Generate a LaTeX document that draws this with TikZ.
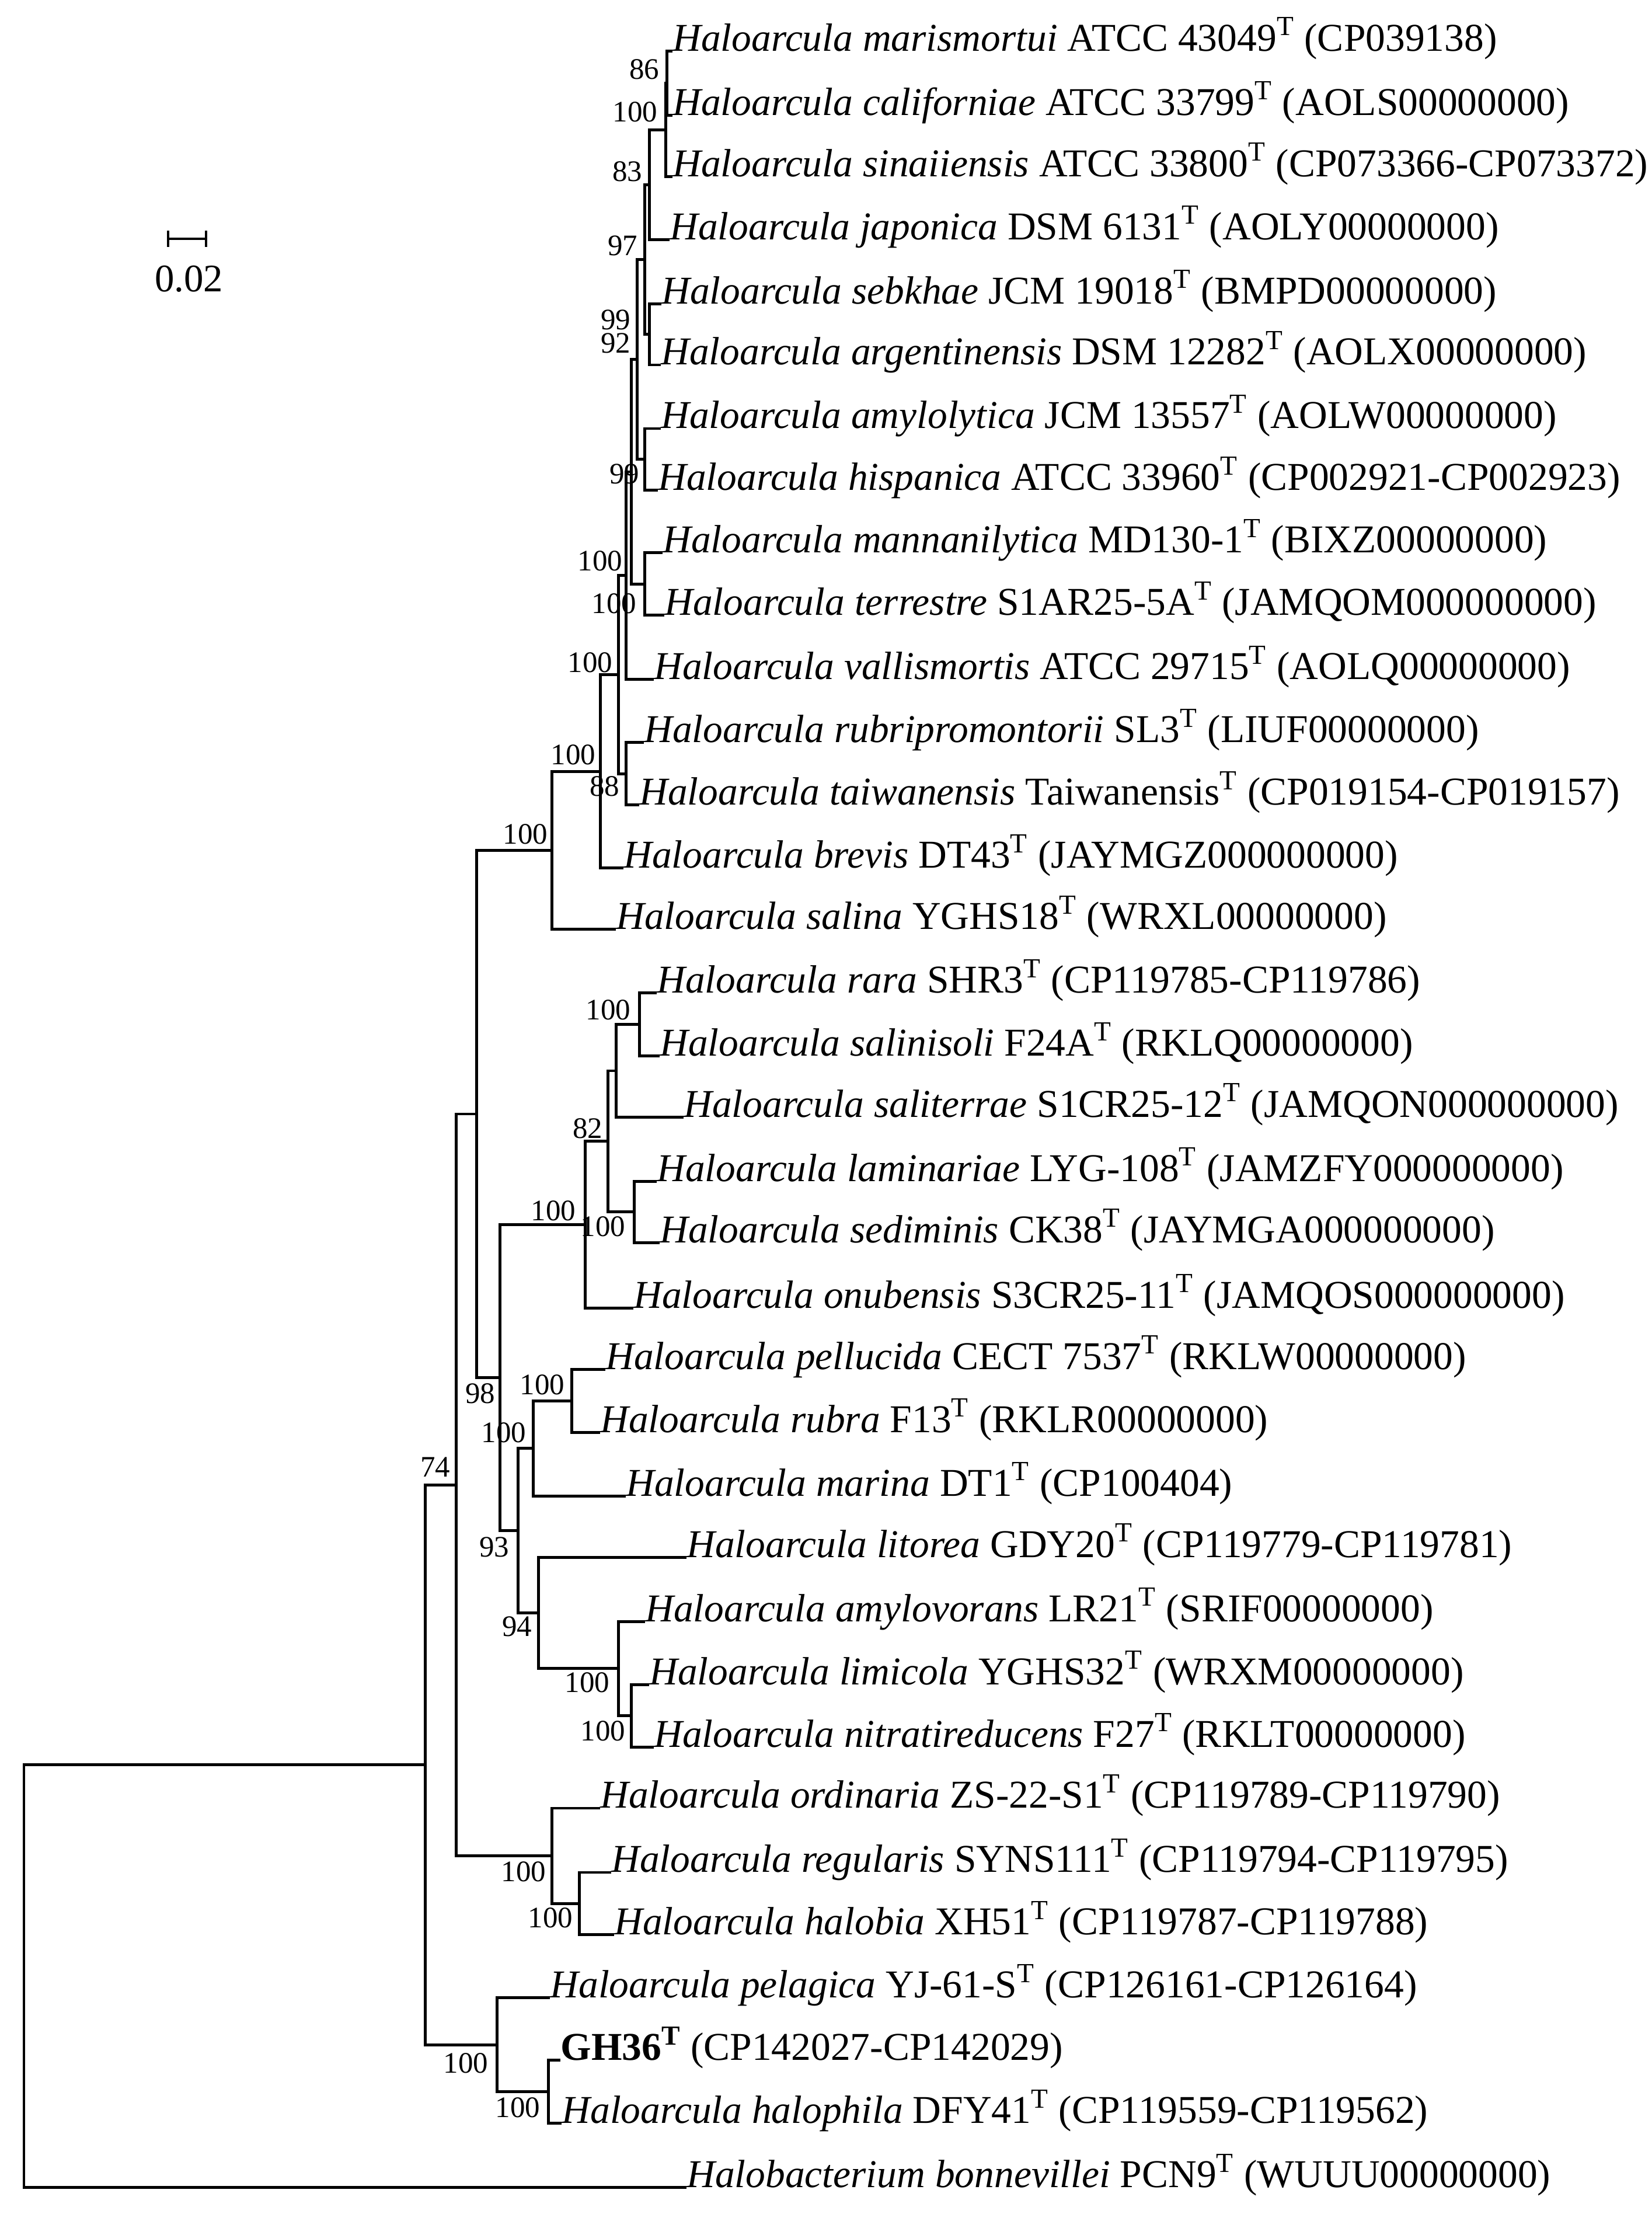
\documentclass[tikz,border=0pt]{standalone}
\usepackage{fontspec}
\setmainfont{Liberation Serif}
\usetikzlibrary{calc}
\tikzset{
  br/.style={line width=1.4pt},
  leaf/.style={anchor=base west,inner sep=0pt,font=\fontsize{19.2}{21}\selectfont},
  bs/.style={anchor=east,inner sep=0pt,font=\fontsize{14.5}{16}\selectfont}
}
\newcommand{\lf}[3]{\textit{Haloarcula #1} #2\textsuperscript{T} (#3)}
\newcommand{\nd}[4]{% name, x, child1, child2
  \path let \p1=(#3), \p2=(#4) in coordinate (#1) at (#2*0.01cm, {(\y1+\y2)/2});
  \draw[br] (#3) -| (#1) |- (#4);}
\begin{document}
\begin{tikzpicture}[x=0.01cm,y=-0.01009cm]
\useasboundingbox (0,0) rectangle (2830,3794);
\begin{scope}[yshift=-0.065cm]
% leaves
\foreach \n/\x/\y in {1/1152/80,2/1152/189,3/1152/293,4/1147/400,5/1133/509,6/1132/613,7/1132/721,8/1127/826,9/1135/932,10/1138/1038,11/1120/1147,12/1103/1254,13/1095/1360,14/1068/1467,15/1055/1571,16/1125/1679,17/1130/1786,18/1171/1890,19/1125/1999,20/1130/2103,21/1085/2214,22/1037/2318,23/1028/2425,24/1072/2533,25/1176/2637,26/1105/2746,27/1112/2853,28/1120/2959,29/1028/3063,30/1047/3172,31/1052/3278,32/942/3385,33/960/3491,34/962/3598,35/1176/3707}
  \coordinate (L\n) at (\x,\y);
\node[leaf] (t1) at (L1) {\lf{marismortui}{ATCC 43049}{CP039138}};
\node[leaf] (t2) at (L2) {\lf{californiae}{ATCC 33799}{AOLS00000000}};
\node[leaf] (t3) at (L3) {\lf{sinaiiensis}{ATCC 33800}{CP073366-CP073372}};
\node[leaf] (t4) at (L4) {\lf{japonica}{DSM 6131}{AOLY00000000}};
\node[leaf] (t5) at (L5) {\lf{sebkhae}{JCM 19018}{BMPD00000000}};
\node[leaf] (t6) at (L6) {\lf{argentinensis}{DSM 12282}{AOLX00000000}};
\node[leaf] (t7) at (L7) {\lf{amylolytica}{JCM 13557}{AOLW00000000}};
\node[leaf] (t8) at (L8) {\lf{hispanica}{ATCC 33960}{CP002921-CP002923}};
\node[leaf] (t9) at (L9) {\lf{mannanilytica}{MD130-1}{BIXZ00000000}};
\node[leaf] (t10) at (L10) {\lf{terrestre}{S1AR25-5A}{JAMQOM000000000}};
\node[leaf] (t11) at (L11) {\lf{vallismortis}{ATCC 29715}{AOLQ00000000}};
\node[leaf] (t12) at (L12) {\lf{rubripromontorii}{SL3}{LIUF00000000}};
\node[leaf] (t13) at (L13) {\lf{taiwanensis}{Taiwanensis}{CP019154-CP019157}};
\node[leaf] (t14) at (L14) {\lf{brevis}{DT43}{JAYMGZ000000000}};
\node[leaf] (t15) at (L15) {\lf{salina}{YGHS18}{WRXL00000000}};
\node[leaf] (t16) at (L16) {\lf{rara}{SHR3}{CP119785-CP119786}};
\node[leaf] (t17) at (L17) {\lf{salinisoli}{F24A}{RKLQ00000000}};
\node[leaf] (t18) at (L18) {\lf{saliterrae}{S1CR25-12}{JAMQON000000000}};
\node[leaf] (t19) at (L19) {\lf{laminariae}{LYG-108}{JAMZFY000000000}};
\node[leaf] (t20) at (L20) {\lf{sediminis}{CK38}{JAYMGA000000000}};
\node[leaf] (t21) at (L21) {\lf{onubensis}{S3CR25-11}{JAMQOS000000000}};
\node[leaf] (t22) at (L22) {\lf{pellucida}{CECT 7537}{RKLW00000000}};
\node[leaf] (t23) at (L23) {\lf{rubra}{F13}{RKLR00000000}};
\node[leaf] (t24) at (L24) {\lf{marina}{DT1}{CP100404}};
\node[leaf] (t25) at (L25) {\lf{litorea}{GDY20}{CP119779-CP119781}};
\node[leaf] (t26) at (L26) {\lf{amylovorans}{LR21}{SRIF00000000}};
\node[leaf] (t27) at (L27) {\lf{limicola}{YGHS32}{WRXM00000000}};
\node[leaf] (t28) at (L28) {\lf{nitratireducens}{F27}{RKLT00000000}};
\node[leaf] (t29) at (L29) {\lf{ordinaria}{ZS-22-S1}{CP119789-CP119790}};
\node[leaf] (t30) at (L30) {\lf{regularis}{SYNS111}{CP119794-CP119795}};
\node[leaf] (t31) at (L31) {\lf{halobia}{XH51}{CP119787-CP119788}};
\node[leaf] (t32) at (L32) {\lf{pelagica}{YJ-61-S}{CP126161-CP126164}};
\node[leaf] (t33) at (L33) {\textbf{GH36\textsuperscript{T}} (CP142027-CP142029)};
\node[leaf] (t34) at (L34) {\lf{halophila}{DFY41}{CP119559-CP119562}};
\node[leaf] (t35) at (L35) {\textit{Halobacterium bonnevillei} PCN9\textsuperscript{T} (WUUU00000000)};
% internal nodes
\nd{N86}{1143}{L1}{L2}
\nd{Na}{1141}{N86}{L3}
\nd{N83}{1113}{Na}{L4}
\nd{Nsa}{1113}{L5}{L6}
\nd{N97}{1105}{N83}{Nsa}
\nd{Nah}{1105}{L7}{L8}
\nd{N99a}{1092}{N97}{Nah}
\nd{Nmt}{1105}{L9}{L10}
\nd{N92}{1082}{N99a}{Nmt}
\nd{N99b}{1073}{N92}{L11}
\nd{N88}{1073}{L12}{L13}
\nd{Nb}{1060}{N99b}{N88}
\nd{Nc}{1029}{Nb}{L14}
\nd{Nd}{946}{Nc}{L15}
\nd{Nrara}{1096}{L16}{L17}
\nd{Nrs}{1056}{Nrara}{L18}
\nd{Nls}{1087}{L19}{L20}
\nd{N82}{1042}{Nrs}{Nls}
\nd{Ne}{1003}{N82}{L21}
\nd{Npr}{980}{L22}{L23}
\nd{Np}{914}{Npr}{L24}
\nd{Nln}{1082}{L27}{L28}
\nd{Nlim}{1060}{L26}{Nln}
\nd{N94}{923}{L25}{Nlim}
\nd{N93}{888}{Np}{N94}
\nd{N98}{857}{Ne}{N93}
\nd{Nm}{817}{Nd}{N98}
\nd{Nrh}{993}{L30}{L31}
\nd{Nord}{946}{L29}{Nrh}
\nd{N74}{782}{Nm}{Nord}
\nd{Ngh}{940}{L33}{L34}
\nd{Npel}{852}{L32}{Ngh}
\nd{Nin}{729}{N74}{Npel}
\nd{Nroot}{41}{Nin}{L35}
% bootstrap values
\foreach \t/\x/\y in {86/1130/111,100/1127/184,83/1101/285,97/1093/411,99/1081/537,92/1081/576,99/1096/798,100/1067/946,100/1091/1018,100/1050/1118,88/1062/1328,100/1021/1275,100/939/1410,100/1081/1708,82/1033/1909,100/1072/2076,100/987/2049,98/849/2359,100/968/2344,100/902/2426,93/873/2620,94/912/2755,100/1045/2850,100/1072/2932,74/772/2484,100/936/3171,100/982/3249,100/837/3496,100/926/3571}
  \node[bs] at (\x,\y) {\t};
% scale bar
\coordinate (s1) at (288,399);
\coordinate (s2) at (353,399);
\draw[line width=1.2pt] (s1) -- (s2);
\draw[line width=1.2pt] ($(s1)+(0,-14)$) -- ($(s1)+(0,14)$);
\draw[line width=1.2pt] ($(s2)+(0,-14)$) -- ($(s2)+(0,14)$);
\node[font=\fontsize{19}{20}\selectfont,inner sep=0pt] (sl) at (324,467) {0.02};
\end{scope}
\end{tikzpicture}
\end{document}
